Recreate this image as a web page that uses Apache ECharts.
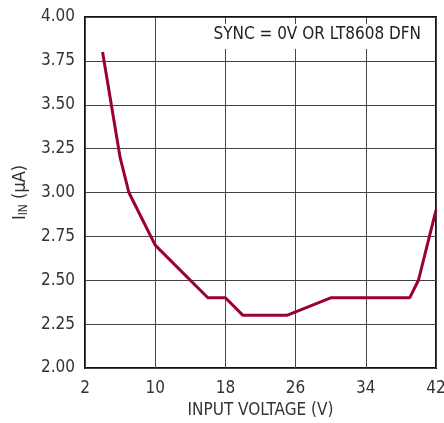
<!DOCTYPE html>
<html>
<head>
<meta charset="utf-8">
<script src="https://cdn.jsdelivr.net/npm/echarts@6/dist/echarts.min.js"></script>
<style>
html,body{margin:0;padding:0;background:#fff;}
#c{width:444px;height:423px;}
</style>
</head>
<body>
<div id="c"></div>
<script>
var voltage = [4, 6, 7, 10, 16, 18, 20, 25, 30, 39, 40, 42];
var current = [3.80, 3.20, 3.00, 2.70, 2.40, 2.40, 2.30, 2.30, 2.40, 2.40, 2.50, 2.90];
var xTicks = [2, 10, 18, 26, 34, 42];
var yTicks = ['2.00','2.25','2.50','2.75','3.00','3.25','3.50','3.75','4.00'];
var noteText = 'SYNC = 0V OR LT8608 DFN';

var FONT = '"Liberation Sans Narrow", "DejaVu Sans Condensed", "Arial Narrow", sans-serif';
var TXT = '#333';
var chart = echarts.init(document.getElementById('c'), null, {renderer: 'canvas'});
var pts = voltage.map(function (v, i) { return [v, current[i]]; });
chart.setOption({
  animation: false,
  backgroundColor: '#fff',
  grid: {left: 85, right: 8, top: 17, bottom: 55, show: true, borderColor: '#111', borderWidth: 2,
    containLabel: false, outerBoundsMode: 'none'},
  xAxis: {
    type: 'value', min: xTicks[0], max: xTicks[xTicks.length - 1], interval: 8,
    name: 'INPUT VOLTAGE (V)', nameLocation: 'middle', nameGap: 27,
    nameTextStyle: {fontFamily: FONT, fontSize: 17, color: TXT},
    axisLine: {show: false}, axisTick: {show: false},
    axisLabel: {fontFamily: FONT, fontSize: 17, color: TXT, margin: 12},
    splitLine: {show: true, lineStyle: {color: '#444', width: 1}}
  },
  yAxis: {
    type: 'value', min: 2, max: 4, interval: 0.25,
    name: '{n|I}{s|IN}{n| (µA)}', nameLocation: 'middle', nameGap: 52, nameRotate: 90,
    nameTextStyle: {fontFamily: FONT, fontSize: 18, color: TXT,
      rich: {n: {fontFamily: FONT, fontSize: 18, color: TXT},
             s: {fontFamily: FONT, fontSize: 12, color: TXT, verticalAlign: 'bottom', padding: [7, 0, 0, 0]}}},
    axisLine: {show: false}, axisTick: {show: false},
    axisLabel: {fontFamily: FONT, fontSize: 17, color: TXT, margin: 10,
      formatter: function (v) { return v.toFixed(2); }},
    splitLine: {show: true, lineStyle: {color: '#444', width: 1}}
  },
  graphic: [{
    type: 'text', right: 21, top: 24, z: 100,
    style: {text: noteText, fontFamily: FONT, fontSize: 17, fill: '#222',
      backgroundColor: '#fff', padding: [2, 2, 6, 2]}
  }],
  series: [{
    type: 'line', data: pts, symbol: 'none',
    lineStyle: {color: '#990033', width: 3}, z: 10
  }]
});
</script>
</body>
</html>
